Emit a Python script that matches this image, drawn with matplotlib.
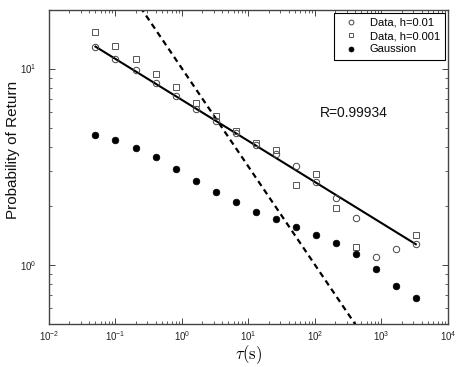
import numpy as np
import matplotlib
matplotlib.use("Agg")
import matplotlib.pyplot as plt
from matplotlib.ticker import FixedLocator, NullFormatter

plt.rcParams['font.family'] = ['Liberation Sans', 'DejaVu Sans']
plt.rcParams['mathtext.fontset'] = 'cm'

# Data
tau = [0.05, 0.1, 0.2, 0.4, 0.8, 1.6, 3.2, 6.4, 12.8, 25.6, 51.2, 102.4,
       204.8, 409.6, 819.2, 1638.4, 3276.8]
p_h001 = [12.95, 11.25, 9.80, 8.45, 7.26, 6.20, 5.39, 4.72, 4.06, 3.69, 3.20,
          2.63, 2.18, 1.74, 1.10, 1.21, 1.28]
p_h0001 = [15.4, 13.1, 11.2, 9.40, 8.03, 6.68, 5.75, 4.79, 4.18, 3.86, 2.54,
           2.90, 1.95, 1.24, np.nan, np.nan, 1.42]
p_gauss = [4.61, 4.31, 3.92, 3.53, 3.08, 2.67, 2.35, 2.08, 1.87, 1.71, 1.56,
           1.42, 1.29, 1.13, 0.951, 0.782, 0.676]
fit_A, fit_b = 6.92, -0.209      # power-law fit to h=0.01 data
gauss_A, gauss_b = 10.0, -0.5    # reference Gaussian slope
fit_text = "R=0.99934"
labels = ["Data, h=0.01", "Data, h=0.001", "Gaussion"]
x_exps = [-2, -1, 0, 1, 2, 3, 4]
y_exps = [0, 1]

fig = plt.figure(figsize=(4.6, 3.67), dpi=100)
ax = fig.add_axes([49/460, 1-324/367, 399/460, (324-9.5)/367])

t = np.array(tau)
ax.plot(t, fit_A * t**fit_b, color='black', lw=1.5, zorder=2)
tl = np.array([1e-2, 1e4])
ax.plot(tl, gauss_A * tl**gauss_b, color='black', lw=1.6, ls=(0, (2.6, 1.9)), zorder=2)

ax.plot(tau, p_h001, ls='none', marker='o', ms=4.6, mfc='none', mec='#444444',
        mew=0.7, label=labels[0], zorder=3)
ax.plot(tau, p_h0001, ls='none', marker='s', ms=4.0, mfc='none', mec='#555555',
        mew=0.7, label=labels[1], zorder=3)
ax.plot(tau, p_gauss, ls='none', marker='o', ms=4.8, mfc='black', mec='black',
        mew=0.5, label=labels[2], zorder=3)

ax.set_xscale('log')
ax.set_yscale('log')
ax.set_xlim(1e-2, 1e4)
ax.set_ylim(0.5, 20)

ax.xaxis.set_major_locator(FixedLocator([10.0**e for e in x_exps]))
ax.set_xticklabels([r'$\mathdefault{10^{%d}}$' % e for e in x_exps])
ax.yaxis.set_major_locator(FixedLocator([10.0**e for e in y_exps]))
ax.set_yticklabels([r'$\mathdefault{10^{%d}}$' % e for e in y_exps])
ax.xaxis.set_minor_locator(FixedLocator([m * 10.0**e for e in x_exps[:-1] for m in range(2, 10)]))
ax.yaxis.set_minor_locator(FixedLocator([m * 10.0**e for e in [-1, 0, 1] for m in range(2, 10)
                                         if 0.5 <= m * 10.0**e <= 20]))
ax.xaxis.set_minor_formatter(NullFormatter())
ax.yaxis.set_minor_formatter(NullFormatter())

for s in ax.spines.values():
    s.set_color('#444444')
    s.set_linewidth(1.0)
ax.tick_params(which='both', direction='in', top=True, right=True,
               colors='#444444', labelcolor='#222222', labelsize=7)
ax.tick_params(which='major', length=4, width=0.7)
ax.tick_params(which='minor', length=2.2, width=0.6)
ax.tick_params(axis='y', which='major', pad=9)
ax.tick_params(axis='x', which='major', pad=4)

ax.text(0.68, 0.671, fit_text, transform=ax.transAxes, fontsize=10,
        color='#111111', ha='left', va='center')

fig.text(248.5/460, 1-355/367, r'$\tau(\mathrm{s})$', fontsize=12, ha='center', va='center')
fig.text(13/460, 1-150/367, 'Probability of Return', fontsize=11, rotation=90,
         ha='center', va='center', color='#111111')

leg = ax.legend(loc='upper right', fontsize=8, frameon=True, fancybox=False,
                framealpha=1, edgecolor='black', borderaxespad=0.3,
                handlelength=2.2, handletextpad=0.55, labelspacing=0.3,
                borderpad=0.45, markerscale=0.75)
leg.get_frame().set_linewidth(0.8)

fig.savefig('out.png', dpi=100)
